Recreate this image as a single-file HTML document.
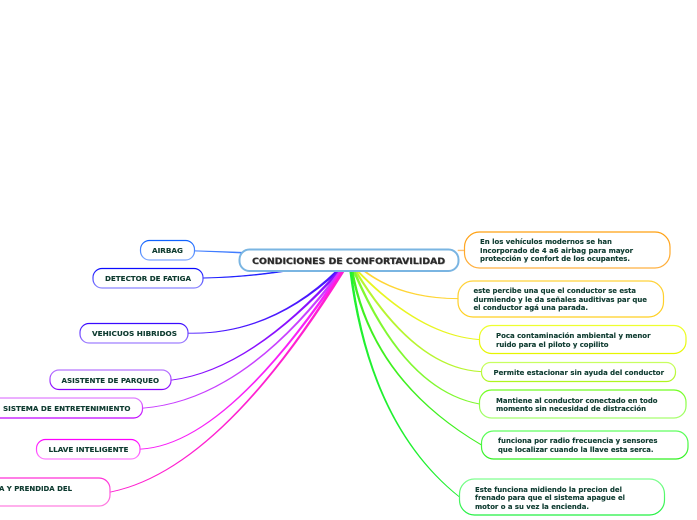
<!DOCTYPE html>
<html><head><meta charset="utf-8"><style>
html,body{margin:0;padding:0;background:#fff;width:697px;height:520px;overflow:hidden}
svg{display:block}
text{font-family:"DejaVu Sans","Liberation Sans",sans-serif;font-weight:bold;font-size:7.4px;fill:#0e3b30;stroke:#0e3b30;stroke-width:.12px}
</style></head><body>
<svg width="697" height="520" viewBox="0 0 697 520" xmlns="http://www.w3.org/2000/svg">
<defs>
<linearGradient id="a1" x1="0" y1="0" x2="0" y2="1"><stop offset="0" stop-color="#0f62ff"/><stop offset="1" stop-color="#7fa8ff"/></linearGradient>
<linearGradient id="a2" x1="0" y1="0" x2="0" y2="1"><stop offset="0" stop-color="#0a0aff"/><stop offset="1" stop-color="#8a85ff"/></linearGradient>
<linearGradient id="a3" x1="0" y1="0" x2="0" y2="1"><stop offset="0" stop-color="#3a0aff"/><stop offset="1" stop-color="#a080ff"/></linearGradient>
<linearGradient id="a4" x1="0" y1="0" x2="0" y2="1"><stop offset="0" stop-color="#b878ff"/><stop offset="1" stop-color="#8a00ff"/></linearGradient>
<linearGradient id="a5" x1="0" y1="0" x2="0" y2="1"><stop offset="0" stop-color="#e080ff"/><stop offset="1" stop-color="#c000ff"/></linearGradient>
<linearGradient id="a6" x1="0" y1="0" x2="0" y2="1"><stop offset="0" stop-color="#ff00ff"/><stop offset="1" stop-color="#ff80ff"/></linearGradient>
<linearGradient id="a7" x1="0" y1="0" x2="0" y2="1"><stop offset="0" stop-color="#ff30d8"/><stop offset="1" stop-color="#ff80e0"/></linearGradient>
<linearGradient id="b1" x1="0" y1="0" x2="0" y2="1"><stop offset="0" stop-color="#ffa010"/><stop offset="1" stop-color="#ffb040"/></linearGradient>
<linearGradient id="b2" x1="0" y1="0" x2="0" y2="1"><stop offset="0" stop-color="#ffd23a"/><stop offset="1" stop-color="#ffcf20"/></linearGradient>
<linearGradient id="b3" x1="0" y1="0" x2="0" y2="1"><stop offset="0" stop-color="#eeff30"/><stop offset="1" stop-color="#e6f500"/></linearGradient>
<linearGradient id="b4" x1="0" y1="0" x2="0" y2="1"><stop offset="0" stop-color="#c8ff60"/><stop offset="1" stop-color="#b0f520"/></linearGradient>
<linearGradient id="b5" x1="0" y1="0" x2="0" y2="1"><stop offset="0" stop-color="#70ff20"/><stop offset="1" stop-color="#a8ff70"/></linearGradient>
<linearGradient id="b6" x1="0" y1="0" x2="0" y2="1"><stop offset="0" stop-color="#60ff60"/><stop offset="1" stop-color="#30f020"/></linearGradient>
<linearGradient id="b7" x1="0" y1="0" x2="0" y2="1"><stop offset="0" stop-color="#80ff90"/><stop offset="1" stop-color="#20f040"/></linearGradient>
</defs>

<g stroke-width="0.6" stroke-linejoin="round">
<path d="M195 250.7Q220 251.300 245 252.300L245 253.300Q220 251.900 195 251.100Z" fill="#3f7cff" stroke="#3f7cff"/>
<path d="M203 277.800Q270 276.500 345 258.500L345 260Q270 277.500 203 278.200Z" fill="#2020ff" stroke="#2020ff"/>
<path d="M188 333Q270 335 337 270L338.800 271Q270 335.700 188 333.300Z" fill="#4a18ff" stroke="#4a18ff"/>
<path d="M171 380Q250 370 339 270L340.800 271Q250 370.700 171 380.300Z" fill="#8a10ff" stroke="#8a10ff"/>
<path d="M142.500 408Q245 400 340 270L341.800 271Q245 400.700 142.500 408.300Z" fill="#c840ff" stroke="#c840ff"/>
<path d="M140 449Q225 445 341 270L343 271Q225 445.700 140 449.300Z" fill="#f820f8" stroke="#f820f8"/>
<path d="M110 492Q220 470 342.500 270L344.500 271Q220 470.700 110 492.300Z" fill="#ff20d0" stroke="#ff20d0"/>

<path d="M458 250L464.500 250L464.500 250.800L458 250.800Z" fill="#ffc070" stroke="#ffc070"/>
<path d="M364 270Q400 298 458 298.400L458 298.800Q399 298.700 362 270Z" fill="#ffd535" stroke="#ffd535"/>
<path d="M357.500 270Q420 335 479.500 339.400L479.500 339.800Q419 335.700 355.700 270Z" fill="#e8f520" stroke="#e8f520"/>
<path d="M356 270Q415 368 481 371.400L481 371.800Q414 368.700 354 270Z" fill="#b8f530" stroke="#b8f530"/>
<path d="M354.500 270Q405 390 479.500 403.800L479.500 404.200Q404 390.700 352.500 270Z" fill="#80f830" stroke="#80f830"/>
<path d="M353 270Q372 380 481.500 444.800L481.500 445.200Q371 380.700 351 270Z" fill="#40f020" stroke="#40f020"/>
<path d="M351.500 270Q370 425 459.500 496.800L459.500 497.200Q369 425.700 349.500 270Z" fill="#20f030" stroke="#20f030"/>
</g>

<g fill="#fff" stroke-width="1.200">
<rect x="140.500" y="240.500" width="54" height="19.500" rx="9" stroke="url(#a1)"/>
<rect x="93" y="268.500" width="110" height="19.500" rx="9" stroke="url(#a2)"/>
<rect x="80" y="323.500" width="108" height="19.500" rx="9" stroke="url(#a3)"/>
<rect x="50" y="370" width="121" height="19.500" rx="9" stroke="url(#a4)"/>
<rect x="-20" y="398" width="162.500" height="20" rx="9" stroke="url(#a5)"/>
<rect x="36.500" y="439.500" width="103.500" height="19.500" rx="9" stroke="url(#a6)"/>
<rect x="-30" y="478" width="140" height="28" rx="11" stroke="url(#a7)"/>
<rect x="464.500" y="232" width="205.500" height="36" rx="15" stroke="url(#b1)"/>
<rect x="458" y="281" width="205.500" height="36" rx="15" stroke="url(#b2)"/>
<rect x="479.500" y="325.500" width="206.500" height="28" rx="12" stroke="url(#b3)"/>
<rect x="481.500" y="362.500" width="194" height="19" rx="9" stroke="url(#b4)"/>
<rect x="479.500" y="390" width="206.500" height="28" rx="12" stroke="url(#b5)"/>
<rect x="481.500" y="431" width="206.500" height="28" rx="12" stroke="url(#b6)"/>
<rect x="459.500" y="479" width="205" height="36" rx="15" stroke="url(#b7)"/>
</g>
<rect x="239.500" y="249.500" width="219" height="21.500" rx="10" fill="#fff" stroke="#7ab5e2" stroke-width="2"/>

<text x="252.600" y="264.300" textLength="193" lengthAdjust="spacingAndGlyphs" style="font-size:8.500px;fill:#999;stroke:none">CONDICIONES DE CONFORTAVILIDAD</text>
<text x="252" y="263.800" textLength="193" lengthAdjust="spacingAndGlyphs" style="font-size:8.500px;fill:#2a2a2a;stroke:#2a2a2a">CONDICIONES DE CONFORTAVILIDAD</text>

<text x="152" y="253" textLength="31" lengthAdjust="spacingAndGlyphs">AIRBAG</text>
<text x="105" y="281" textLength="86" lengthAdjust="spacingAndGlyphs">DETECTOR DE FATIGA</text>
<text x="92" y="336" textLength="85" lengthAdjust="spacingAndGlyphs">VEHICUOS HIBRIDOS</text>
<text x="61.500" y="383" textLength="97.500" lengthAdjust="spacingAndGlyphs">ASISTENTE DE PARQUEO</text>
<text x="3" y="411" textLength="127.500" lengthAdjust="spacingAndGlyphs">SISTEMA DE ENTRETENIMIENTO</text>
<text x="48.500" y="452" textLength="80" lengthAdjust="spacingAndGlyphs">LLAVE INTELIGENTE</text>
<text x="-1" y="491" textLength="73" lengthAdjust="spacingAndGlyphs">A Y PRENDIDA DEL</text>

<text x="480" y="244" textLength="132" lengthAdjust="spacingAndGlyphs">En los vehículos modernos se han</text>
<text x="480" y="253" textLength="153" lengthAdjust="spacingAndGlyphs">Incorporado de 4 a6 airbag para mayor</text>
<text x="480" y="261" textLength="150" lengthAdjust="spacingAndGlyphs">protección y confort de los ocupantes.</text>

<text x="473.500" y="293" textLength="162.500" lengthAdjust="spacingAndGlyphs">este percibe una que el conductor se esta</text>
<text x="473.500" y="302" textLength="173.500" lengthAdjust="spacingAndGlyphs">durmiendo y le da señales auditivas par que</text>
<text x="473.500" y="310" textLength="114.500" lengthAdjust="spacingAndGlyphs">el conductor agá una parada.</text>

<text x="496" y="338" textLength="154.500" lengthAdjust="spacingAndGlyphs">Poca contaminación ambiental y menor</text>
<text x="496" y="347" textLength="112.500" lengthAdjust="spacingAndGlyphs">ruido para el piloto y copilito</text>

<text x="493.500" y="375" textLength="170.500" lengthAdjust="spacingAndGlyphs">Permite estacionar sin ayuda del conductor</text>

<text x="496" y="403" textLength="161.500" lengthAdjust="spacingAndGlyphs">Mantiene al conductor conectado en todo</text>
<text x="496" y="411" textLength="150" lengthAdjust="spacingAndGlyphs">momento sin necesidad de distracción</text>

<text x="498" y="443" textLength="159.500" lengthAdjust="spacingAndGlyphs">funciona por radio frecuencia y sensores</text>
<text x="498" y="452" textLength="155.500" lengthAdjust="spacingAndGlyphs">que localizar cuando la llave esta serca.</text>

<text x="475" y="492" textLength="147" lengthAdjust="spacingAndGlyphs">Este funciona midiendo la precion del</text>
<text x="475" y="500" textLength="150" lengthAdjust="spacingAndGlyphs">frenado para que el sistema apague el</text>
<text x="475" y="509" textLength="114" lengthAdjust="spacingAndGlyphs">motor o a su vez la encienda.</text>
</svg>
</body></html>
